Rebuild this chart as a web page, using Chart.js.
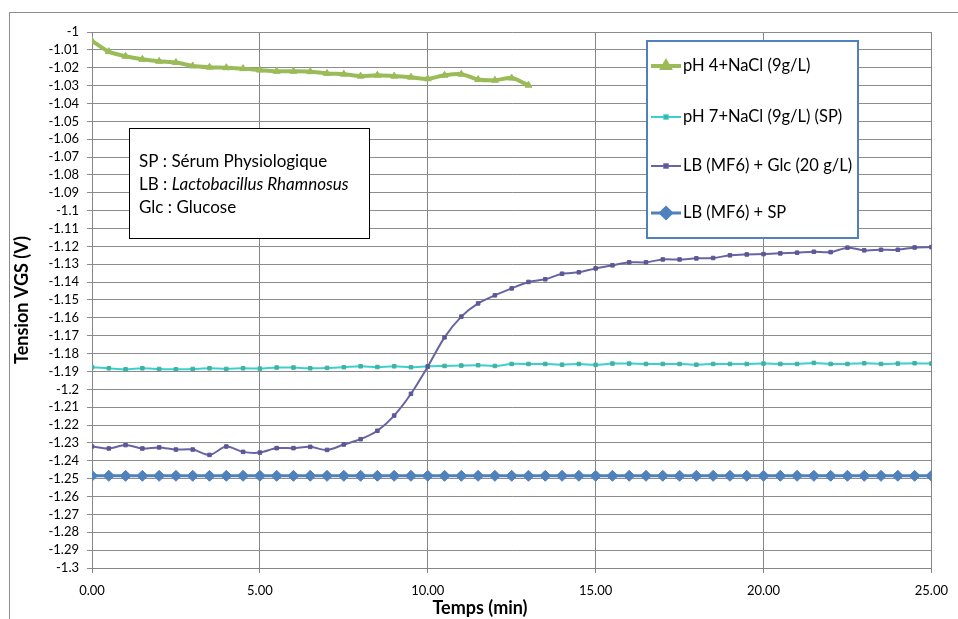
<!DOCTYPE html>
<html>
<head>
<meta charset="utf-8">
<script src="https://cdn.jsdelivr.net/npm/chart.js@4.4.1/dist/chart.umd.min.js"></script>
<style>
  html, body { margin: 0; padding: 0; background: #ffffff; }
  #wrap { width: 958px; height: 619px; }
</style>
</head>
<body>
<div id="wrap"><canvas id="myChart" width="958" height="619"></canvas></div>
<script>
// time in minutes
const times = [
    0, 0.5, 1, 1.5, 2, 2.5, 3, 3.5, 4, 4.5, 5, 5.5, 6, 6.5, 7, 7.5, 8, 8.5, 9, 9.5,
    10, 10.5, 11, 11.5, 12, 12.5, 13, 13.5, 14, 14.5, 15, 15.5, 16, 16.5, 17, 17.5,
    18, 18.5, 19, 19.5, 20, 20.5, 21, 21.5, 22, 22.5, 23, 23.5, 24, 24.5, 25
];

const ph4 = [
    -1.0050, -1.0110, -1.0136, -1.0153, -1.0164, -1.0171, -1.0190, -1.0197, -1.0200, -1.0205,
    -1.0213, -1.0220, -1.0220, -1.0222, -1.0232, -1.0236, -1.0247, -1.0242, -1.0247, -1.0253,
    -1.0262, -1.0242, -1.0236, -1.0266, -1.0270, -1.0258, -1.0298
];

const ph7 = [
    -1.1876, -1.1882, -1.1888, -1.1882, -1.1886, -1.1888, -1.1886, -1.1882, -1.1886, -1.1882,
    -1.1884, -1.1878, -1.1878, -1.1882, -1.1880, -1.1876, -1.1871, -1.1875, -1.1871, -1.1876,
    -1.1871, -1.1869, -1.1867, -1.1865, -1.1869, -1.1858, -1.1858, -1.1858, -1.1862, -1.1858,
    -1.1863, -1.1856, -1.1856, -1.1858, -1.1858, -1.1858, -1.1862, -1.1858, -1.1858, -1.1858,
    -1.1856, -1.1858, -1.1858, -1.1852, -1.1858, -1.1858, -1.1854, -1.1858, -1.1856, -1.1854,
    -1.1856
];

const lbGlc = [
    -1.2320, -1.2331, -1.2312, -1.2331, -1.2325, -1.2337, -1.2337, -1.2367, -1.2320, -1.2350,
    -1.2354, -1.2329, -1.2329, -1.2322, -1.2339, -1.2309, -1.2279, -1.2232, -1.2147, -1.2025,
    -1.1873, -1.1709, -1.1593, -1.1519, -1.1474, -1.1435, -1.1399, -1.1384, -1.1353, -1.1345,
    -1.1323, -1.1306, -1.1289, -1.1289, -1.1273, -1.1273, -1.1267, -1.1265, -1.1250, -1.1245,
    -1.1243, -1.1239, -1.1235, -1.1230, -1.1232, -1.1207, -1.1222, -1.1219, -1.1219, -1.1206,
    -1.1204
];

const lbSp = [
    -1.2484, -1.2484, -1.2484, -1.2484, -1.2484, -1.2484, -1.2484, -1.2484, -1.2484, -1.2484,
    -1.2484, -1.2484, -1.2484, -1.2484, -1.2484, -1.2484, -1.2484, -1.2484, -1.2484, -1.2484,
    -1.2484, -1.2484, -1.2484, -1.2484, -1.2484, -1.2484, -1.2484, -1.2484, -1.2484, -1.2484,
    -1.2484, -1.2484, -1.2484, -1.2484, -1.2484, -1.2484, -1.2484, -1.2484, -1.2484, -1.2484,
    -1.2484, -1.2484, -1.2484, -1.2484, -1.2484, -1.2484, -1.2484, -1.2484, -1.2484, -1.2484,
    -1.2484
];

const seriesNames = ["pH 4+NaCl (9g/L)", "pH 7+NaCl (9g/L) (SP)", "LB (MF6) + Glc (20 g/L)", "LB (MF6) + SP"];
const noteLines = ["SP : Sérum Physiologique", "LB : ", "Glc : Glucose"];
const noteItalic = "Lactobacillus Rhamnosus";

const xTitle = "Temps (min)";
const yTitle = "Tension VGS (V)";

function pts(vals) {
    return vals.map((v, i) => ({ x: times[i], y: v }));
}

const styles = [
    { line: "#9bbb59", fill: "#9bbb59", width: 4, shape: "triangle", r: 4 },
    { line: "#3ccfcf", fill: "#3fb3a0", width: 2, shape: "rect", r: 2.5 },
    { line: "#6864a4", fill: "#5c5896", width: 2, shape: "rect", r: 2.5 },
    { line: "#4f81bd", fill: "#4f81bd", width: 3, shape: "rectRot", r: 5.5 }
];

const allData = [ph4, ph7, lbGlc, lbSp];

const datasets = allData.map((vals, i) => ({
    label: seriesNames[i],
    data: pts(vals),
    borderColor: styles[i].line,
    backgroundColor: styles[i].fill,
    pointBackgroundColor: styles[i].fill,
    pointBorderColor: styles[i].fill,
    pointStyle: styles[i].shape,
    pointRadius: styles[i].r,
    pointBorderWidth: 1,
    borderWidth: styles[i].width,
    tension: 0.3,
    fill: false,
    order: [1, 3, 2, 4][i]   // purple drawn above teal
}));

const overlay = {
    id: "overlay",
    beforeDraw(chart) {
        const ctx = chart.ctx;
        ctx.save();
        ctx.fillStyle = "#ffffff";
        ctx.fillRect(0, 0, chart.width, chart.height);
        ctx.strokeStyle = "#8c8c8c";
        ctx.lineWidth = 1;
        ctx.beginPath();
        ctx.moveTo(9.5, chart.height);
        ctx.lineTo(9.5, 12.5);
        ctx.lineTo(chart.width, 12.5);
        ctx.stroke();
        ctx.restore();
    },
    afterDraw(chart) {
        const ctx = chart.ctx;
        ctx.save();

        // x axis title, sits a bit left of centre in the original
        ctx.fillStyle = "#000000";
        ctx.textBaseline = "middle";
        ctx.textAlign = "center";
        ctx.font = "bold 18px Lato";
        ctx.fillText(xTitle, 480, 608);
        ctx.textAlign = "left";

        // note box
        ctx.fillStyle = "#ffffff";
        ctx.fillRect(129, 128, 240, 110);
        ctx.strokeStyle = "#000000";
        ctx.lineWidth = 1;
        ctx.strokeRect(129.5, 128.5, 240, 110);
        ctx.fillStyle = "#000000";
        ctx.font = "17px Lato";
        ctx.fillText(noteLines[0], 139, 162);
        ctx.fillText(noteLines[1], 139, 185);
        const w = ctx.measureText(noteLines[1]).width;
        ctx.font = "italic 17px Lato";
        ctx.fillText(noteItalic, 139 + w, 185);
        ctx.font = "17px Lato";
        ctx.fillText(noteLines[2], 139, 208);

        // legend box
        ctx.fillStyle = "#ffffff";
        ctx.fillRect(647, 41, 211, 197);
        ctx.strokeStyle = "#4f81bd";
        ctx.lineWidth = 2;
        ctx.strokeRect(647, 41, 211, 197);
        const rows = [66, 117, 166, 213];
        seriesNames.forEach((name, i) => {
            const s = styles[i];
            const y = rows[i];
            ctx.strokeStyle = s.line;
            ctx.lineWidth = s.width;
            ctx.beginPath();
            ctx.moveTo(651, y);
            ctx.lineTo(681, y);
            ctx.stroke();
            Chart.helpers.drawPoint(ctx, {
                pointStyle: s.shape, radius: s.r, borderWidth: 1, rotation: 0
            }, 666, y);
            ctx.fillStyle = s.fill;
            ctx.fill();
            ctx.fillStyle = "#000000";
            ctx.font = "16.5px Lato";
            ctx.fillText(name, 683, y);
        });
        ctx.restore();
    }
};

Chart.defaults.font.family = "Lato";
Chart.defaults.color = "#000000";

const ctx = document.getElementById("myChart").getContext("2d");
new Chart(ctx, {
    type: "line",
    data: { datasets: datasets },
    options: {
        responsive: false,
        devicePixelRatio: 1,
        animation: false,
        layout: { padding: { left: 0, right: 25, top: 32, bottom: 0 } },
        plugins: {
            legend: { display: false },
            tooltip: { enabled: false }
        },
        scales: {
            x: {
                type: "linear",
                min: 0,
                max: 25,
                afterFit: scale => { scale.height = 51; },
                grid: { color: "#858585", tickLength: 5 },
                border: { color: "#858585" },
                ticks: {
                    stepSize: 5,
                    padding: 10,
                    font: { size: 13 },
                    callback: v => v.toFixed(2)
                }
            },
            y: {
                min: -1.3,
                max: -1,
                afterFit: scale => { scale.width = 92; },
                grid: { color: "#8c8c8c", tickLength: 5 },
                border: { color: "#858585" },
                ticks: {
                    stepSize: 0.01,
                    autoSkip: false,
                    padding: 8,
                    font: { size: 13 },
                    callback: v => parseFloat(v.toFixed(2)).toString()
                },
                title: {
                    display: true,
                    text: yTitle,
                    font: { size: 18, weight: "bold" },
                    padding: { top: 11, bottom: 0 }
                }
            }
        }
    },
    plugins: [overlay]
});
</script>
</body>
</html>
